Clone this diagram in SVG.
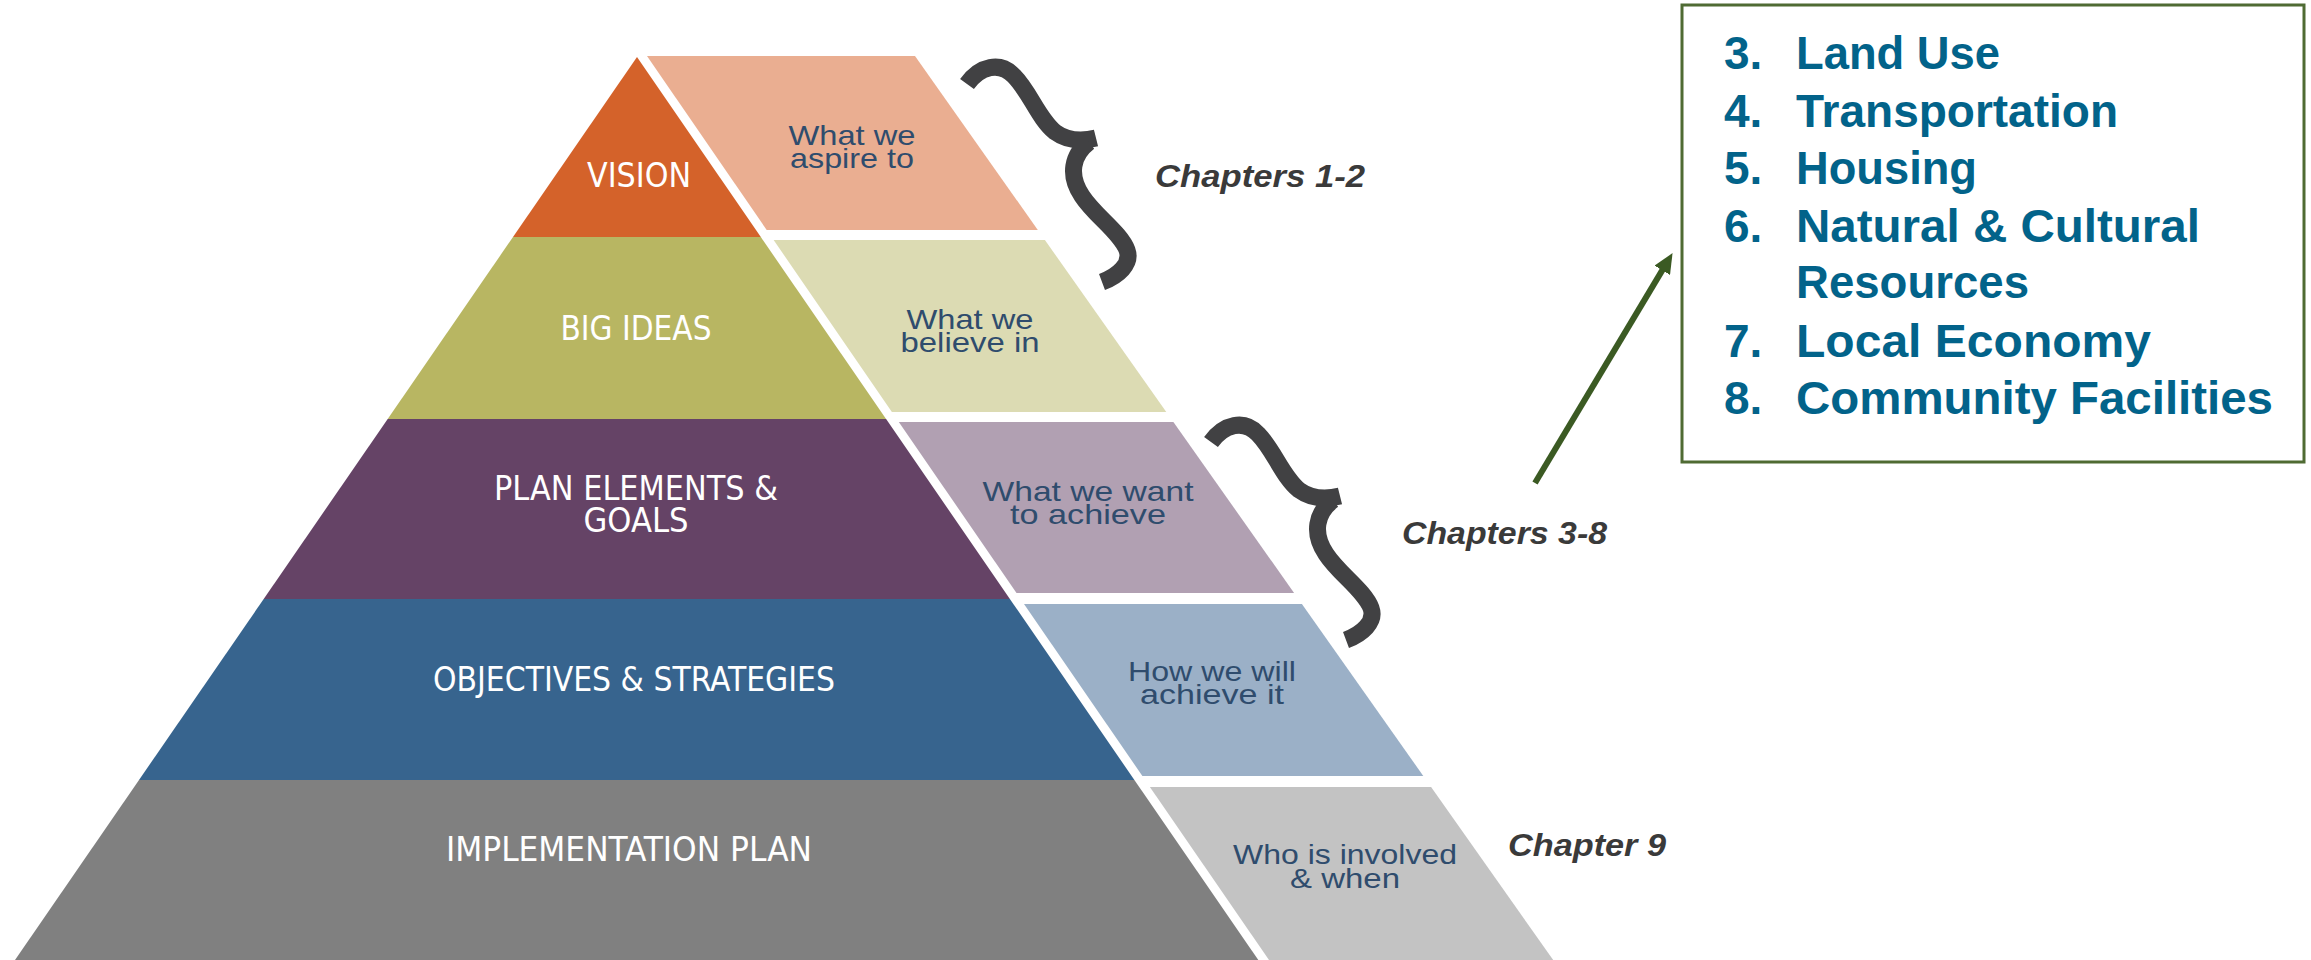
<svg xmlns="http://www.w3.org/2000/svg" width="2311" height="960" viewBox="0 0 2311 960">
<defs>
<style>
.band{font-family:"Liberation Sans Narrow","DejaVu Sans Condensed","Liberation Sans",sans-serif;font-size:33px;fill:#ffffff;text-anchor:middle}
.desc{font-family:"Liberation Sans",Arial,sans-serif;font-size:28px;fill:#2F4C6D;text-anchor:middle}
.chap{font-family:"Liberation Sans",Arial,sans-serif;font-size:31px;font-weight:bold;font-style:italic;fill:#3A3A3A}
.list{font-family:"Liberation Sans",Arial,sans-serif;font-size:46px;font-weight:bold;fill:#02638A}
.brace{fill:none;stroke:#414143;stroke-width:17;stroke-linecap:butt}
</style>
<marker id="ah" markerUnits="userSpaceOnUse" markerWidth="20" markerHeight="18" refX="1" refY="9" orient="auto">
<path d="M0,0 L20,9 L0,18 z" fill="#3B5A23"/>
</marker>
</defs>
<rect x="0" y="0" width="2311" height="960" fill="#ffffff"/>

<g id="vision">
<polygon points="637,57 760.8,237 513,237" fill="#D4622A"/>
<text class="band" x="639" y="187" textLength="104" lengthAdjust="spacingAndGlyphs">VISION</text>
</g>
<g id="big-ideas">
<polygon points="513,237 760.8,237 886.1,419 387.7,419" fill="#B8B662"/>
<text class="band" x="636" y="340" textLength="151" lengthAdjust="spacingAndGlyphs">BIG IDEAS</text>
</g>
<g id="plan-elements">
<polygon points="387.7,419 886.1,419 1009.9,599 263.7,599" fill="#654366"/>
<text class="band" x="636" y="500" textLength="284" lengthAdjust="spacingAndGlyphs">PLAN ELEMENTS &amp;</text>
<text class="band" x="636" y="532" textLength="105" lengthAdjust="spacingAndGlyphs">GOALS</text>
</g>
<g id="objectives">
<polygon points="263.7,599 1009.9,599 1134.4,780 139,780" fill="#37648E"/>
<text class="band" x="634" y="691" textLength="402" lengthAdjust="spacingAndGlyphs">OBJECTIVES &amp; STRATEGIES</text>
</g>
<g id="implementation">
<polygon points="139,780 1134.4,780 1258.3,960 15,960" fill="#808080"/>
<text class="band" x="629" y="861" textLength="366" lengthAdjust="spacingAndGlyphs">IMPLEMENTATION PLAN</text>
</g>

<g id="aspire">
<polygon points="647,56 915,56 1037.8,230 766.7,230" fill="#EAAE91"/>
<text class="desc" x="852" y="145" textLength="127" lengthAdjust="spacingAndGlyphs">What we</text>
<text class="desc" x="852" y="168" textLength="124" lengthAdjust="spacingAndGlyphs">aspire to</text>
</g>
<g id="believe">
<polygon points="773.6,240 1044.9,240 1166.3,412 891.9,412" fill="#DCDBB3"/>
<text class="desc" x="970" y="329" textLength="127" lengthAdjust="spacingAndGlyphs">What we</text>
<text class="desc" x="970" y="352" textLength="139" lengthAdjust="spacingAndGlyphs">believe in</text>
</g>
<g id="want">
<polygon points="898.8,422 1173.4,422 1294.1,593 1016.5,593" fill="#B1A0B2"/>
<text class="desc" x="1088" y="501" textLength="211" lengthAdjust="spacingAndGlyphs">What we want</text>
<text class="desc" x="1088" y="524" textLength="156" lengthAdjust="spacingAndGlyphs">to achieve</text>
</g>
<g id="how">
<polygon points="1024,604 1301.9,604 1423.3,776 1142.4,776" fill="#9BB0C7"/>
<text class="desc" x="1212" y="681" textLength="168" lengthAdjust="spacingAndGlyphs">How we will</text>
<text class="desc" x="1212" y="704" textLength="144" lengthAdjust="spacingAndGlyphs">achieve it</text>
</g>
<g id="who">
<polygon points="1149.9,787 1431.1,787 1553.2,960 1269,960" fill="#C3C3C3"/>
<text class="desc" x="1345" y="864" textLength="224" lengthAdjust="spacingAndGlyphs">Who is involved</text>
<text class="desc" x="1345" y="888" textLength="110" lengthAdjust="spacingAndGlyphs">&amp; when</text>
</g>

<g id="brace-1-2">
<path class="brace" d="M967,84 C980,66 1000,61 1014,76 C1030,92 1038,118 1055,132 C1066,140 1080,142 1096,138"/>
<path class="brace" d="M1089,142 C1072,155 1068,175 1082,196 C1095,216 1120,232 1127,250 C1132,264 1118,276 1102,282"/>
<text class="chap" x="1155" y="187" textLength="210" lengthAdjust="spacingAndGlyphs">Chapters 1-2</text>
</g>
<g id="brace-3-8">
<g transform="translate(244,358)">
<path class="brace" d="M967,84 C980,66 1000,61 1014,76 C1030,92 1038,118 1055,132 C1066,140 1080,142 1096,138"/>
<path class="brace" d="M1089,142 C1072,155 1068,175 1082,196 C1095,216 1120,232 1127,250 C1132,264 1118,276 1102,282"/>
</g>
<text class="chap" x="1402" y="544" textLength="205" lengthAdjust="spacingAndGlyphs">Chapters 3-8</text>
</g>
<g id="chapter-9">
<text class="chap" x="1508" y="856" textLength="158" lengthAdjust="spacingAndGlyphs">Chapter 9</text>
</g>

<g id="chapter-list">
<rect x="1682" y="5" width="622" height="457" fill="#ffffff" stroke="#4F6B33" stroke-width="3"/>
<text class="list" x="1724" y="69">3.</text><text class="list" x="1796" y="69" textLength="204" lengthAdjust="spacingAndGlyphs">Land Use</text>
<text class="list" x="1724" y="127">4.</text><text class="list" x="1796" y="127" textLength="322" lengthAdjust="spacingAndGlyphs">Transportation</text>
<text class="list" x="1724" y="184">5.</text><text class="list" x="1796" y="184" textLength="181" lengthAdjust="spacingAndGlyphs">Housing</text>
<text class="list" x="1724" y="242">6.</text><text class="list" x="1796" y="242" textLength="404" lengthAdjust="spacingAndGlyphs">Natural &amp; Cultural</text>
<text class="list" x="1796" y="298" textLength="233" lengthAdjust="spacingAndGlyphs">Resources</text>
<text class="list" x="1724" y="357">7.</text><text class="list" x="1796" y="357" textLength="355" lengthAdjust="spacingAndGlyphs">Local Economy</text>
<text class="list" x="1724" y="414">8.</text><text class="list" x="1796" y="414" textLength="477" lengthAdjust="spacingAndGlyphs">Community Facilities</text>
</g>

<g id="connectors">
<line x1="1535" y1="483" x2="1662.8" y2="269.4" stroke="#3B5A23" stroke-width="6" marker-end="url(#ah)"/>
</g>
</svg>
